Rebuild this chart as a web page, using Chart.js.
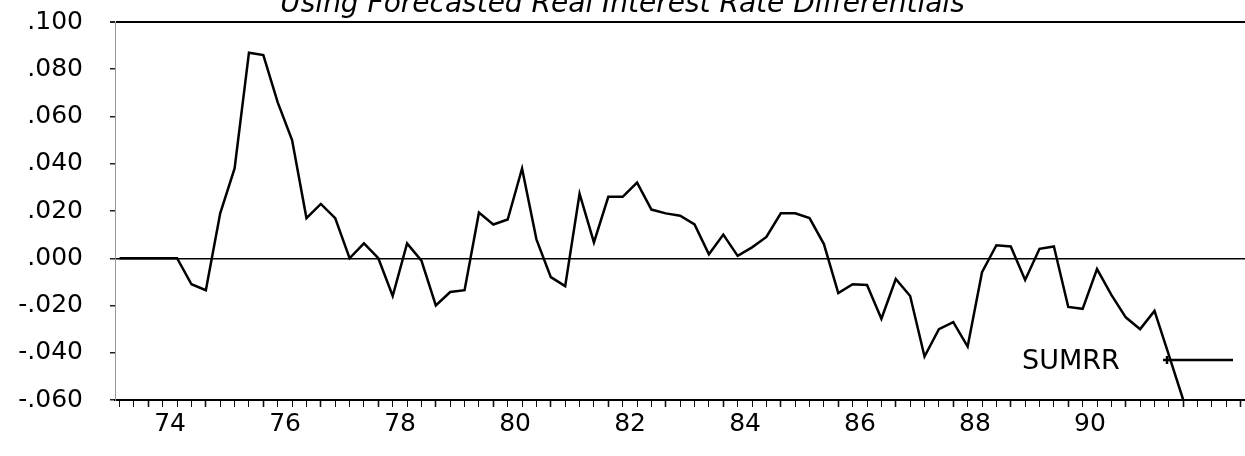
<!DOCTYPE html>
<html>
<head>
<meta charset="utf-8">
<title>SUMRR</title>
<script src="https://cdn.jsdelivr.net/npm/chart.js"></script>
<style>
  html, body { margin: 0; padding: 0; background: #fff; overflow: hidden; }
  #chart { display: block; margin-top: -20px; }
</style>
</head>
<body>
<canvas id="chart" width="1245" height="476"></canvas>
<script>
// quarterly series, first point is 1973 Q3
var firstQuarter = 1973.5;
var sumrr = [
  0, 0, 0, 0,
  0, -0.011, -0.0135, 0.019, 0.038, 0.087, 0.086, 0.066,
  0.050, 0.017, 0.023, 0.017, 0.000, 0.0063, 0.000, -0.016,
  0.0063, -0.001, -0.020, -0.0143, -0.0135, 0.0193, 0.0143, 0.0164,
  0.038, 0.008, -0.008, -0.0118, 0.0273, 0.0067, 0.026, 0.026,
  0.032, 0.0206, 0.019, 0.018, 0.0143, 0.0017, 0.010, 0.001,
  0.0046, 0.009, 0.019, 0.019, 0.017, 0.006, -0.0147, -0.011,
  -0.0113, -0.0256, -0.0088, -0.016, -0.0416, -0.030, -0.027, -0.0374,
  -0.0059, 0.0055, 0.005, -0.0092, 0.004, 0.005, -0.0206, -0.0214,
  -0.0046, -0.0155, -0.025, -0.030, -0.0223, -0.041, -0.060
];
var yearLabels = ['74', '76', '78', '80', '82', '84', '86', '88', '90'];
var yTicks = [0.100, 0.080, 0.060, 0.040, 0.020, 0.000, -0.020, -0.040, -0.060];

var points = sumrr.map(function(v, i) {
  return { x: firstQuarter + i * 0.25, y: v };
});

function fmtY(v) {
  var s = Math.abs(v).toFixed(3).replace(/^0/, '');
  return (v < -1e-9 ? '-' : '') + s;
}

// legend drawn inside the plot, lower right
var legendPlugin = {
  id: 'sumrrLegend',
  afterDraw: function(chart) {
    var ctx = chart.ctx;
    var ds = chart.data.datasets[0];
    ctx.save();
    ctx.fillStyle = '#000';
    ctx.font = '27px "DejaVu Sans"';
    ctx.textAlign = 'left';
    ctx.textBaseline = 'middle';
    ctx.fillText(ds.label, 1022, 382);
    ctx.strokeStyle = ds.borderColor;
    ctx.lineWidth = 2.5;
    ctx.beginPath();
    ctx.moveTo(1163, 380);
    ctx.lineTo(1233, 380);
    ctx.moveTo(1167, 376);
    ctx.lineTo(1167, 384);
    ctx.stroke();
    ctx.restore();
  }
};

new Chart(document.getElementById('chart').getContext('2d'), {
  type: 'line',
  data: {
    datasets: [{
      label: 'SUMRR',
      data: points,
      borderColor: '#000',
      borderWidth: 2.5,
      pointRadius: 0,
      tension: 0,
      fill: false
    }]
  },
  options: {
    responsive: false,
    animation: false,
    layout: { padding: 0 },
    plugins: {
      legend: { display: false },
      tooltip: { enabled: false },
      title: {
        display: true,
        text: 'Using Forecasted Real Interest Rate Differentials',
        color: '#000',
        font: { family: 'DejaVu Sans', size: 28, style: 'italic', weight: 'normal' },
        padding: { top: 7, bottom: 0 }
      }
    },
    scales: {
      x: {
        type: 'linear',
        min: 1973.42,
        max: 1993.074,
        afterBuildTicks: function(scale) {
          var t = [];
          for (var q = 1973.5; q <= 1993.0; q += 0.25) t.push({ value: q });
          scale.ticks = t;
        },
        afterFit: function(scale) { scale.height = 56; },
        ticks: {
          autoSkip: false,
          maxRotation: 0,
          padding: 2,
          labelOffset: -7,
          color: '#000',
          font: { family: 'DejaVu Sans', size: 25 },
          callback: function(value) {
            var frac = value - Math.floor(value);
            var yr = Math.floor(value);
            if (Math.abs(frac - 0.5) > 0.01) return '';
            var lab = String(yr).slice(2);
            return yearLabels.indexOf(lab) >= 0 ? lab : '';
          }
        },
        grid: {
          drawOnChartArea: false,
          tickLength: 7,
          tickColor: '#111',
          tickWidth: function(c) {
            var v = c.tick ? c.tick.value : 0;
            return Math.abs(v - Math.round(v)) < 0.01 ? 1.6 : 1;
          }
        },
        border: { display: true, color: '#000', width: 2 }
      },
      y: {
        min: -0.06,
        max: 0.1,
        afterBuildTicks: function(scale) {
          scale.ticks = yTicks.map(function(v) { return { value: v }; });
        },
        afterFit: function(scale) { scale.width = 115; },
        ticks: {
          padding: 27,
          color: '#000',
          font: { family: 'DejaVu Sans', size: 25 },
          callback: function(value) { return fmtY(value); }
        },
        grid: {
          tickLength: 5,
          tickColor: '#222',
          color: function(c) {
            var v = c.tick ? c.tick.value : 1;
            return (Math.abs(v) < 1e-9 || Math.abs(v - 0.1) < 1e-9) ? '#000' : 'rgba(0,0,0,0)';
          },
          lineWidth: function(c) {
            var v = c.tick ? c.tick.value : 1;
            return Math.abs(v - 0.1) < 1e-9 ? 2 : 1.5;
          }
        },
        border: { display: true, color: '#999', width: 1 }
      }
    }
  },
  plugins: [legendPlugin]
});
</script>
</body>
</html>
